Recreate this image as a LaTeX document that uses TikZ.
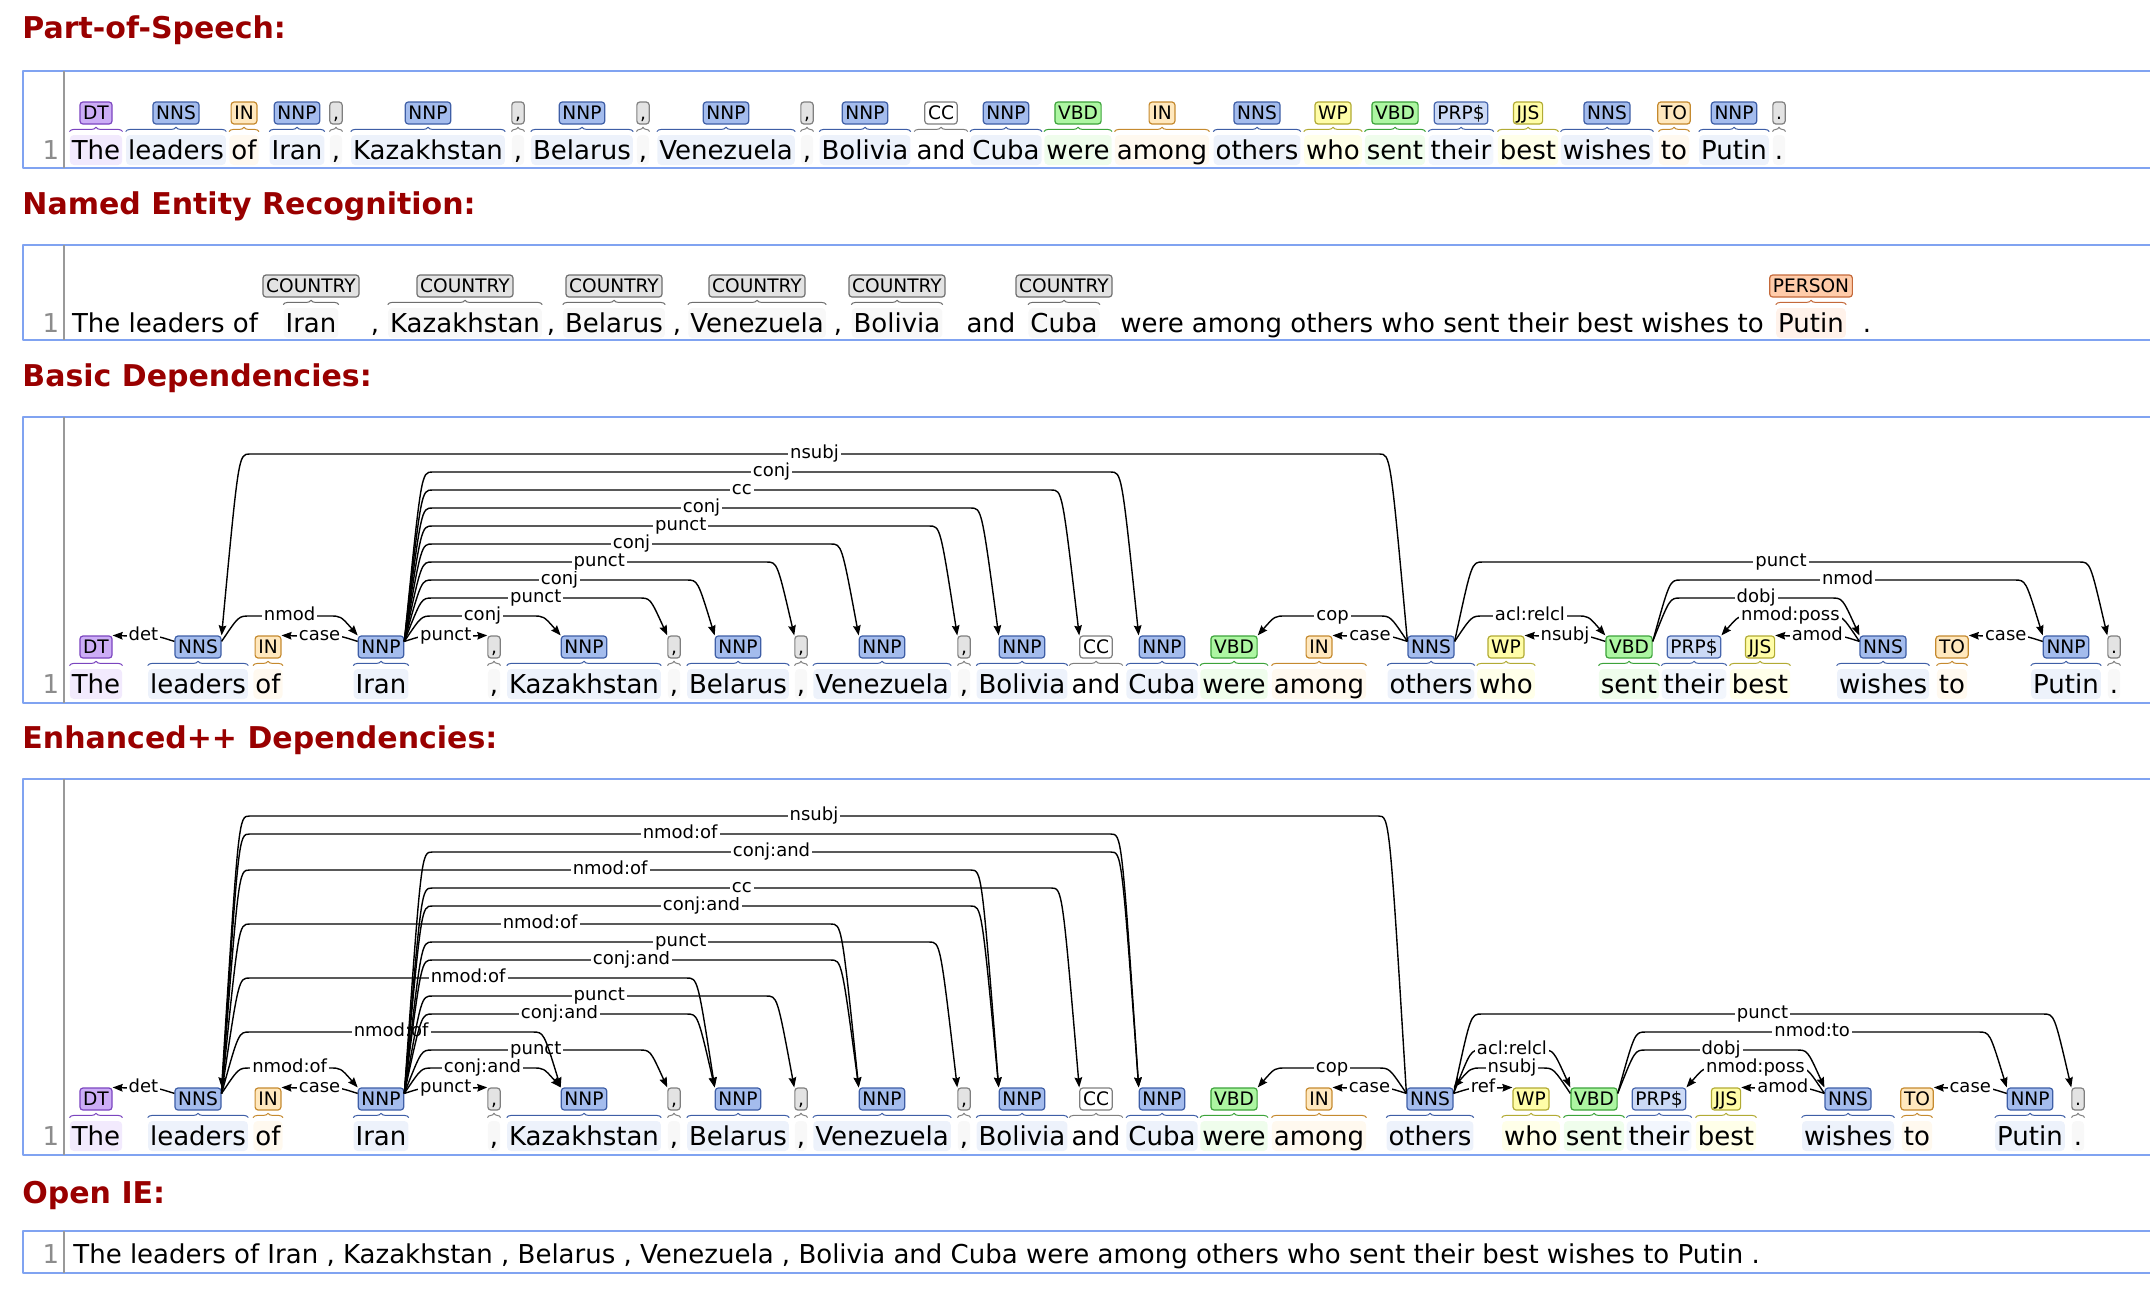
\documentclass[tikz,border=0pt]{standalone}
\usepackage{fontspec}
\setmainfont{DejaVu Sans}
\usepackage{tikz}
\usetikzlibrary{arrows.meta,calc,decorations.pathreplacing}
\definecolor{titlered}{HTML}{990000}
\definecolor{panelblue}{HTML}{80A3F1}
\definecolor{detfill}{HTML}{CCADF6}   \definecolor{detdraw}{HTML}{7B45BF}
\definecolor{nounfill}{HTML}{A4BCED}  \definecolor{noundraw}{HTML}{3E5EA6}
\definecolor{prepfill}{HTML}{FFE8BE}  \definecolor{prepdraw}{HTML}{C58A2F}
\definecolor{puncfill}{HTML}{E3E3E3}  \definecolor{puncdraw}{HTML}{7F7F7F}
\definecolor{coordfill}{HTML}{FFFFFF} \definecolor{coorddraw}{HTML}{7F7F7F}
\definecolor{verbfill}{HTML}{ADF6A2}  \definecolor{verbdraw}{HTML}{3CA33A}
\definecolor{adjfill}{HTML}{FFFDA8}   \definecolor{adjdraw}{HTML}{B2AB34}
\definecolor{pronfill}{HTML}{CCDAF6}  \definecolor{prondraw}{HTML}{4766AD}
\definecolor{ctryfill}{HTML}{E3E3E3}  \definecolor{ctrydraw}{HTML}{6E6E6E}
\definecolor{persfill}{HTML}{FFCCAA}  \definecolor{persdraw}{HTML}{C4693A}
\colorlet{detbg}{detfill!25!white}
\colorlet{nounbg}{nounfill!20!white}
\colorlet{prepbg}{prepfill!25!white}
\colorlet{puncbg}{puncfill!25!white}
\colorlet{coordbg}{white}
\colorlet{verbbg}{verbfill!20!white}
\colorlet{adjbg}{adjfill!25!white}
\colorlet{pronbg}{pronfill!25!white}
\colorlet{ctrybg}{ctryfill!25!white}
\colorlet{persbg}{persfill!25!white}
\newcommand{\wordfont}{\fontsize{13}{15}\selectfont}
\newcommand{\tagfont}{\fontsize{9.3}{11}\selectfont}
\newcommand{\lblfont}{\fontsize{9}{11}\selectfont}
\newcommand{\headfont}{\fontsize{15}{18}\selectfont\bfseries}
\tikzset{
    every picture/.style={line join=round},
    sectitle/.style={anchor=base west,text=titlered,font=\headfont,inner sep=0pt},
    panel/.style={draw=panelblue,line width=1.2pt},
    rowrule/.style={draw=black!40,line width=0.8pt},
    lineno/.style={anchor=base,text=black!45,font=\wordfont,inner sep=0pt},
    word/.style={anchor=base,font=\wordfont,inner xsep=1pt,inner ysep=0pt,
      text height=12pt,text depth=3pt,rounded corners=2pt},
    tagbox/.style={draw,rounded corners=1.5pt,line width=0.6pt,font=\tagfont,
      inner xsep=1.6pt,inner ysep=0pt,minimum height=11pt,
      text height=6.8pt,text depth=0pt},
    spanbrace/.style={decorate,decoration={brace,amplitude=2.2pt},line width=0.5pt},
    deparc/.style={draw=black,line width=0.7pt,
      -{Stealth[length=5pt,width=3.8pt,inset=0.6pt]}},
    deplabel/.style={fill=white,font=\lblfont,inner xsep=1pt,inner ysep=0.4pt,
      text height=6.5pt,text depth=1.8pt}
}
% arc to a word on the right / on the left; #3 is the level in px
\newcommand{\arcR}[4]{%
  \draw[deparc] let \p1=([yshift=-3pt]#1.north east), \p2=(#2.north west) in
    (\p1) .. controls ({\x1+8.5pt},{-0.5pt*#3}) .. ({\x1+14pt},{-0.5pt*#3})
    -- node[deplabel]{#4} ({\x2-14pt},{-0.5pt*#3})
    .. controls ({\x2-8.5pt},{-0.5pt*#3}) .. (\p2);}
\newcommand{\arcL}[4]{%
  \draw[deparc] let \p1=([yshift=-3pt]#1.north west), \p2=(#2.north east) in
    (\p1) .. controls ({\x1-8.5pt},{-0.5pt*#3}) .. ({\x1-14pt},{-0.5pt*#3})
    -- node[deplabel]{#4} ({\x2+14pt},{-0.5pt*#3})
    .. controls ({\x2+8.5pt},{-0.5pt*#3}) .. (\p2);}

\begin{document}
\begin{tikzpicture}[x=0.5pt,y=-0.5pt]
  \useasboundingbox (0,0) rectangle (2150,1302);

  % section titles
  \node[sectitle] (tpos) at (22,38) {Part-of-Speech:};
  \node[sectitle] (tner) at (22,214) {Named Entity Recognition:};
  \node[sectitle] (tbas) at (22,386) {Basic Dependencies:};
  \node[sectitle] (tenh) at (22,748) {Enhanced++ Dependencies:};
  \node[sectitle] (toie) at (22,1203) {Open IE:};

  % panels
  \foreach \top/\bot in {71/168,245/340,417/703,779/1155,1231/1273} {
    \draw[panel] (2160,\top) -| (23,\bot) -- (2160,\bot);
    \draw[rowrule] (64,\top) -- (64,\bot);
  }
  \foreach \n/\y in {1/159,2/332,3/693,4/1145,5/1263}
    \node[lineno] (num\n) at (51,\y) {1};

  % tokens: index/word/tag/class/x in POS/x in basic/x in enhanced
  \foreach \i/\w/\t/\c/\xp/\xb/\xe in {
      1/The/DT/det/96/96/96,
      2/leaders/NNS/noun/176/198/198,
      3/of/IN/prep/244/268/268,
      4/Iran/NNP/noun/297/381/381,
      5/{,}/{,}/punc/336/494/494,
      6/Kazakhstan/NNP/noun/428/584/584,
      7/{,}/{,}/punc/518/674/674,
      8/Belarus/NNP/noun/582/738/738,
      9/{,}/{,}/punc/643/801/801,
      10/Venezuela/NNP/noun/726/882/882,
      11/{,}/{,}/punc/807/964/964,
      12/Bolivia/NNP/noun/865/1022/1022,
      13/and/CC/coord/941/1096/1096,
      14/Cuba/NNP/noun/1006/1162/1162,
      15/were/VBD/verb/1078/1234/1234,
      16/among/IN/prep/1162/1319/1319,
      17/others/NNS/noun/1257/1431/1430,
      18/who/WP/adj/1333/1506/1531,
      19/sent/VBD/verb/1395/1629/1594,
      20/their/PRP\$/pron/1461/1694/1659,
      21/best/JJS/adj/1528/1760/1726,
      22/wishes/NNS/noun/1607/1883/1848,
      23/to/TO/prep/1674/1952/1917,
      24/Putin/NNP/noun/1734/2066/2030,
      25/././punc/1779/2114/2078} {
    \node[tagbox,fill=\c fill,draw=\c draw] (pt\i) at (\xp,113) {\t};
    \node[word,fill=\c bg] (pw\i) at (\xp,159) {\w};
    \draw[spanbrace,draw=\c draw] ([yshift=1.5pt]pw\i.north west) -- ([yshift=1.5pt]pw\i.north east);
    \node[tagbox,fill=\c fill,draw=\c draw] (bt\i) at (\xb,647) {\t};
    \node[word,fill=\c bg] (bw\i) at (\xb,693) {\w};
    \draw[spanbrace,draw=\c draw] ([yshift=1.5pt]bw\i.north west) -- ([yshift=1.5pt]bw\i.north east);
    \node[tagbox,fill=\c fill,draw=\c draw] (et\i) at (\xe,1099) {\t};
    \node[word,fill=\c bg] (ew\i) at (\xe,1145) {\w};
    \draw[spanbrace,draw=\c draw] ([yshift=1.5pt]ew\i.north west) -- ([yshift=1.5pt]ew\i.north east);
  }

  % named entities
  \foreach \i/\w/\x in {1/The leaders of/165,3/{,}/375,5/{,}/551,7/{,}/677,9/{,}/838,
      11/and/991,13/were among others who sent their best wishes to/1442,15/./1867}
    \node[word] (nw\i) at (\x,332) {\w};
  \foreach \i/\w/\x/\c/\t in {2/Iran/311/ctry/COUNTRY,4/Kazakhstan/465/ctry/COUNTRY,
      6/Belarus/614/ctry/COUNTRY,8/Venezuela/757/ctry/COUNTRY,10/Bolivia/897/ctry/COUNTRY,
      12/Cuba/1064/ctry/COUNTRY,14/Putin/1811/pers/PERSON} {
    \node[tagbox,fill=\c fill,draw=\c draw] (nt\i) at (\x,286) {\t};
    \node[word,fill=\c bg] (nw\i) at (\x,332) {\w};
    \draw[spanbrace,draw=\c draw] ([yshift=1.5pt]nw\i.north west) -- ([yshift=1.5pt]nw\i.north east);
  }

  % basic dependencies
  \arcL{bt2}{bt1}{636}{det}
  \arcR{bt2}{bt4}{616}{nmod}
  \arcL{bt4}{bt3}{636}{case}
  \arcR{bt4}{bt5}{636}{punct}
  \arcR{bt4}{bt6}{616}{conj}
  \arcR{bt4}{bt7}{598}{punct}
  \arcR{bt4}{bt8}{580}{conj}
  \arcR{bt4}{bt9}{562}{punct}
  \arcR{bt4}{bt10}{544}{conj}
  \arcR{bt4}{bt11}{526}{punct}
  \arcR{bt4}{bt12}{508}{conj}
  \arcR{bt4}{bt13}{490}{cc}
  \arcR{bt4}{bt14}{472}{conj}
  \arcL{bt17}{bt2}{454}{nsubj}
  \arcL{bt17}{bt15}{616}{cop}
  \arcL{bt17}{bt16}{636}{case}
  \arcR{bt17}{bt19}{616}{acl:relcl}
  \arcR{bt17}{bt25}{562}{punct}
  \arcL{bt19}{bt18}{636}{nsubj}
  \arcR{bt19}{bt24}{580}{nmod}
  \arcR{bt19}{bt22}{598}{dobj}
  \arcL{bt22}{bt20}{616}{nmod:poss}
  \arcL{bt22}{bt21}{636}{amod}
  \arcL{bt24}{bt23}{636}{case}

  % enhanced++ dependencies
  \arcL{et2}{et1}{1088}{det}
  \arcR{et2}{et4}{1068}{nmod:of}
  \arcL{et4}{et3}{1088}{case}
  \arcR{et4}{et5}{1088}{punct}
  \arcR{et4}{et6}{1068}{conj:and}
  \arcR{et4}{et7}{1050}{punct}
  \arcR{et2}{et6}{1032}{nmod:of}
  \arcR{et4}{et8}{1014}{conj:and}
  \arcR{et4}{et9}{996}{punct}
  \arcR{et2}{et8}{978}{nmod:of}
  \arcR{et4}{et10}{960}{conj:and}
  \arcR{et4}{et11}{942}{punct}
  \arcR{et2}{et10}{924}{nmod:of}
  \arcR{et4}{et12}{906}{conj:and}
  \arcR{et4}{et13}{888}{cc}
  \arcR{et2}{et12}{870}{nmod:of}
  \arcR{et4}{et14}{852}{conj:and}
  \arcR{et2}{et14}{834}{nmod:of}
  \arcL{et17}{et2}{816}{nsubj}
  \arcL{et17}{et15}{1068}{cop}
  \arcL{et17}{et16}{1088}{case}
  \arcR{et17}{et18}{1088}{ref}
  \arcR{et17}{et19}{1050}{acl:relcl}
  \arcL{et19}{et17}{1068}{nsubj}
  \arcR{et17}{et25}{1014}{punct}
  \arcR{et19}{et24}{1032}{nmod:to}
  \arcR{et19}{et22}{1050}{dobj}
  \arcL{et22}{et20}{1068}{nmod:poss}
  \arcL{et22}{et21}{1088}{amod}
  \arcL{et24}{et23}{1088}{case}

  % open IE
  \node[word,anchor=base west] (oie) at (71,1263)
    {The leaders of Iran , Kazakhstan , Belarus , Venezuela , Bolivia and Cuba were among others who sent their best wishes to Putin .};
\end{tikzpicture}
\end{document}
